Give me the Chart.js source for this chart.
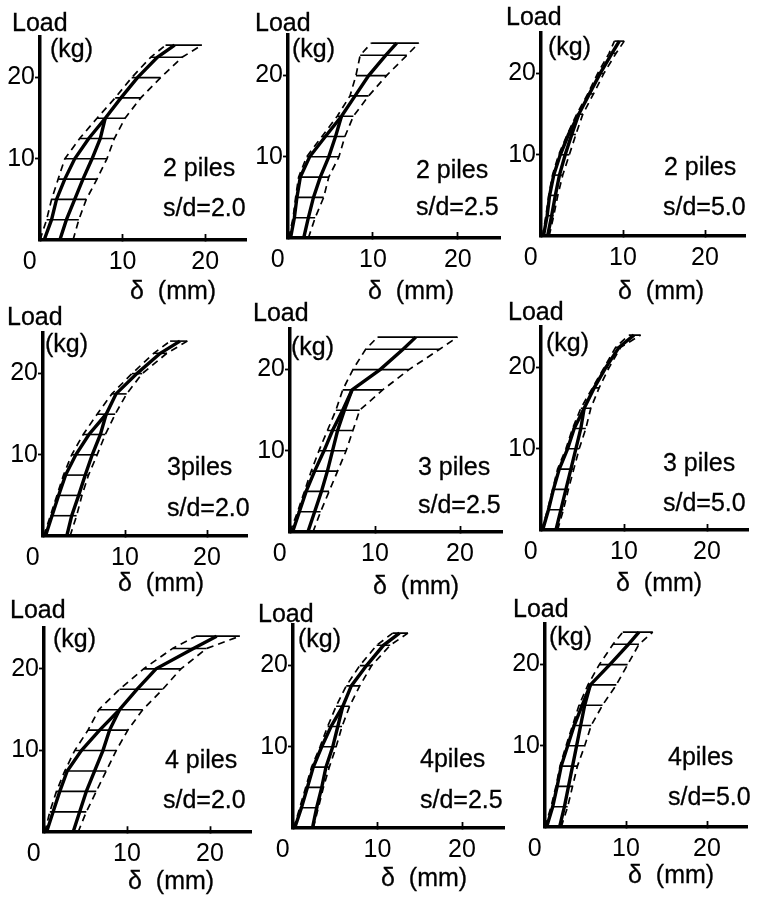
<!DOCTYPE html>
<html>
<head>
<meta charset="utf-8">
<script src="https://cdn.jsdelivr.net/npm/chart.js@4/dist/chart.umd.min.js"></script>
<style>
  html, body { margin: 0; padding: 0; background: #fff; }
  body { position: relative; width: 758px; height: 897px; overflow: hidden;
         font-family: "Liberation Sans", Arial, sans-serif; color: #000; }
  canvas { position: absolute; }
  .lbl { position: absolute; font-size: 25px; line-height: 1; white-space: pre;
         -webkit-text-stroke: 0.3px #000; }
</style>
</head>
<body>
<script>
// Load steps (kg) at which every curve is read; the hatching sits on these steps.
const LOADS = [0, 2.5, 5, 7.5, 10, 12.5, 15, 17.5, 20, 22.5, 24];
const X_TICKS = [0, 10, 20];
const Y_TICKS = [10, 20];

// Settlement δ (mm) per load step. dash* = scatter band, solid* = the two mean curves.
// 2 piles, s/d = 2.0
const p2sd20DashL  = [0.0, 0.8, 1.4, 2.2, 3.0, 4.8, 6.9, 9.1, 11.1, 13.4, 15.2];
const p2sd20SolidL = [0.5, 1.4, 2.0, 3.0, 4.2, 5.9, 7.9, 9.8, 11.8, 14.2, 16.3];
const p2sd20SolidR = [2.4, 3.2, 4.2, 5.2, 6.3, 7.3, 7.9, null, null, null, null];
const p2sd20DashR  = [4.0, 4.7, 5.6, 6.9, 8.1, 9.0, 10.3, 12.2, 14.6, 17.2, 19.6];
// 2 piles, s/d = 2.5
const p2sd25DashL  = [0.1, 0.6, 0.9, 1.25, 2.2, 4.0, 5.8, 7.3, 8.0, 8.5, 9.8];
const p2sd25SolidL = [0.3, 0.75, 1.05, 1.45, 2.55, 4.4, 6.3, 7.9, 9.5, 11.5, 12.8];
const p2sd25SolidR = [1.85, 2.4, 3.0, 3.8, 4.8, 5.6, 6.3, null, null, null, null];
const p2sd25DashR  = [2.4, 3.2, 4.2, 4.8, 6.0, 6.7, 7.7, 9.5, 11.6, 14.0, 15.4];
// 2 piles, s/d = 5.0
const p2sd50DashL  = [0.2, 0.6, 0.95, 1.4, 2.15, 3.2, 4.35, 5.7, 6.9, 8.3, 8.95];
const p2sd50SolidL = [0.3, 0.75, 1.05, 1.55, 2.35, 3.35, 4.6, 5.9, 7.2, 8.65, 9.55];
const p2sd50SolidR = [0.8, 1.3, 1.75, 2.25, 2.95, 3.75, 4.6, null, null, null, null];
const p2sd50DashR  = [1.0, 1.55, 2.05, 2.65, 3.45, 4.25, 5.1, 6.4, 7.65, 9.15, 10.15];
// 3 piles, s/d = 2.0
const p3sd20DashL  = [0.1, 0.9, 1.7, 2.5, 3.5, 4.9, 6.6, 8.4, 10.85, 13.5, 15.5];
const p3sd20SolidL = [0.3, 1.1, 1.9, 2.75, 4.0, 5.6, 7.7, 8.9, 11.45, 14.3, 16.7];
const p3sd20SolidR = [2.9, 3.5, 4.35, 5.15, 6.0, 7.0, 7.7, null, null, null, null];
const p3sd20DashR  = [3.3, 4.1, 4.75, 5.55, 6.6, 7.6, 8.8, 10.2, 12.1, 15.1, 17.6];
// 3 piles, s/d = 2.5
const p3sd25DashL  = [0.0, 0.9, 1.7, 2.5, 3.4, 4.4, 5.4, 6.2, 7.4, 8.9, 10.3];
const p3sd25SolidL = [0.3, 1.1, 1.9, 2.9, 4.0, 5.0, 6.2, 7.3, 10.6, 13.3, 14.8];
const p3sd25SolidR = [2.1, 2.9, 3.7, 4.4, 5.0, 5.6, 6.4, 7.3, null, null, null];
const p3sd25DashR  = [2.7, 3.6, 4.6, 5.6, 6.6, 7.4, 8.2, 10.9, 14.0, 17.6, 19.7];
// 3 piles, s/d = 5.0
const p3sd50DashL  = [0.1, 0.8, 1.4, 2.0, 3.0, 3.8, 4.8, 6.2, 7.6, 9.0, 10.6];
const p3sd50SolidL = [0.2, 0.9, 1.5, 2.2, 3.2, 4.0, 5.2, 6.4, 7.8, 9.4, 11.2];
const p3sd50SolidR = [1.8, 2.4, 3.0, 3.6, 4.2, 4.8, 5.2, null, null, null, null];
const p3sd50DashR  = [2.0, 2.7, 3.3, 3.95, 4.6, 5.4, 6.0, 7.0, 8.2, 9.6, 12.0];
// 4 piles, s/d = 2.0
const p4sd20DashL  = [0.1, 0.7, 1.5, 2.5, 3.7, 5.3, 6.6, 9.1, 12.0, 15.5, 18.3];
const p4sd20SolidL = [0.3, 1.1, 1.9, 2.8, 4.5, 6.7, 9.1, 11.2, 13.5, 18.0, 20.8];
const p4sd20SolidR = [3.5, 4.3, 5.1, 6.1, 7.1, 7.9, 9.1, null, null, null, null];
const p4sd20DashR  = [4.1, 5.1, 6.3, 7.5, 8.7, 10.1, 11.9, 14.3, 16.5, 19.6, 23.6];
// 4 piles, s/d = 2.5
const p4sd25DashL  = [0.1, 0.8, 1.5, 2.2, 3.2, 4.1, 5.1, 6.3, 7.9, 9.9, 11.8];
const p4sd25SolidL = [0.2, 1.0, 1.7, 2.4, 3.4, 4.5, 5.9, 6.9, 8.7, 10.7, 12.6];
const p4sd25SolidR = [2.3, 2.8, 3.4, 3.9, 4.7, 5.3, 5.9, null, null, null, null];
const p4sd25DashR  = [2.4, 3.0, 3.6, 4.3, 5.1, 5.8, 6.7, 7.9, 9.3, 11.5, 13.6];
// 4 piles, s/d = 5.0
const p4sd50DashL  = [0.0, 0.75, 1.35, 1.85, 2.6, 3.4, 4.2, 5.3, 6.7, 8.4, 9.6];
const p4sd50SolidL = [0.2, 0.95, 1.5, 2.0, 2.8, 3.6, 4.6, 5.6, 8.0, 10.3, 11.6];
const p4sd50SolidR = [1.8, 2.4, 2.9, 3.4, 3.9, 4.4, 4.9, 5.6, null, null, null];
const p4sd50DashR  = [2.0, 2.8, 3.4, 4.0, 4.9, 5.7, 7.1, 8.8, 10.2, 11.6, 13.3];

const PANEL_NAMES  = ['2 piles', '2 piles', '2 piles', '3piles', '3 piles', '3 piles', '4 piles', '4piles', '4piles'];
const PANEL_RATIOS = ['s/d=2.0', 's/d=2.5', 's/d=5.0', 's/d=2.0', 's/d=2.5', 's/d=5.0', 's/d=2.0', 's/d=2.5', 's/d=5.0'];

const series = [
  [p2sd20DashL, p2sd20SolidL, p2sd20SolidR, p2sd20DashR],
  [p2sd25DashL, p2sd25SolidL, p2sd25SolidR, p2sd25DashR],
  [p2sd50DashL, p2sd50SolidL, p2sd50SolidR, p2sd50DashR],
  [p3sd20DashL, p3sd20SolidL, p3sd20SolidR, p3sd20DashR],
  [p3sd25DashL, p3sd25SolidL, p3sd25SolidR, p3sd25DashR],
  [p3sd50DashL, p3sd50SolidL, p3sd50SolidR, p3sd50DashR],
  [p4sd20DashL, p4sd20SolidL, p4sd20SolidR, p4sd20DashR],
  [p4sd25DashL, p4sd25SolidL, p4sd25SolidR, p4sd25DashR],
  [p4sd50DashL, p4sd50SolidL, p4sd50SolidR, p4sd50DashR],
];

// Page geometry: axis origin (ox, oy) in px and px per mm / per kg.
const frames = [
  { ox: 40,  oy: 240, sx: 8.26, sy: 8.4 },
  { ox: 288, oy: 238, sx: 8.49, sy: 8.4 },
  { ox: 541, oy: 236, sx: 8.2,  sy: 8.4 },
  { ox: 43,  oy: 536, sx: 8.2,  sy: 8.4 },
  { ox: 290, oy: 532, sx: 8.5,  sy: 8.4 },
  { ox: 541, oy: 530, sx: 8.3,  sy: 8.4 },
  { ox: 44,  oy: 832, sx: 8.3,  sy: 8.45 },
  { ox: 293, oy: 828, sx: 8.45, sy: 8.4 },
  { ox: 545, oy: 827, sx: 8.1,  sy: 8.4 },
];
// Text anchors [left, capTop] for: Load, (kg), pile count, s/d, δ (mm)
const textPos = [
  [[12, 13],  [50, 39],  [163, 158], [163, 198], [130, 281]],
  [[255, 13], [292, 39], [416, 160], [416, 197], [368, 281]],
  [[506, 7],  [548, 37], [664, 157], [663, 197], [618, 281]],
  [[7, 307],  [45, 334], [167, 457], [167, 498], [118, 573]],
  [[253, 303],[291, 337],[418, 457], [418, 495], [373, 576]],
  [[508, 302],[546, 333],[663, 453], [663, 493], [616, 573]],
  [[10, 600], [53, 629], [165, 750], [163, 790], [128, 871]],
  [[258, 604],[298, 629],[420, 749], [420, 790], [381, 868]],
  [[513, 599],[549, 627],[668, 747], [668, 787], [628, 865]],
];

const FONT = '"Liberation Sans", Arial, sans-serif';
const X_MAX = 25, Y_MAX = 25;
const YW = 45, XH = 40, PT = 8;

function points(xs) {
  return xs.map((x, i) => ({ x, y: LOADS[i] })).filter(p => p.x !== null);
}

function addText(str, left, capTop) {
  const d = document.createElement('div');
  d.className = 'lbl';
  d.textContent = str;
  d.style.left = left + 'px';
  d.style.top = (capTop - 3) + 'px';
  document.body.appendChild(d);
}

series.forEach((s, k) => {
  const [dashL, solidL, solidR, dashR] = s;
  const f = frames[k];
  const plotW = X_MAX * f.sx, plotH = Y_MAX * f.sy;
  const W = Math.ceil(YW + plotW + 6);
  const H = Math.ceil(PT + plotH + XH);
  const PR = W - YW - plotW;
  const PB = H - PT - plotH - XH;

  const cv = document.createElement('canvas');
  cv.width = W; cv.height = H;
  cv.style.width = W + 'px'; cv.style.height = H + 'px';
  cv.style.left = (f.ox - YW) + 'px';
  cv.style.top = (f.oy - plotH - PT) + 'px';
  document.body.appendChild(cv);

  const datasets = [
    { data: points(solidL), borderColor: '#000', borderWidth: 3.4 },
    { data: points(solidR), borderColor: '#000', borderWidth: 3.4 },
    { data: points(dashL), borderColor: '#000', borderWidth: 1.7, borderDash: [7, 5] },
    { data: points(dashR), borderColor: '#000', borderWidth: 1.7, borderDash: [7, 5] },
  ];
  // hatching across the scatter band at each load step
  for (let i = 1; i < LOADS.length; i++) {
    datasets.push({
      data: [{ x: dashL[i], y: LOADS[i] }, { x: dashR[i], y: LOADS[i] }],
      borderColor: '#000', borderWidth: 1.6,
    });
  }

  new Chart(cv, {
    type: 'line',
    data: { datasets },
    options: {
      responsive: false, animation: false, devicePixelRatio: 1,
      layout: { padding: { top: PT, right: PR, left: 0, bottom: PB }, autoPadding: false },
      plugins: { legend: { display: false }, tooltip: { enabled: false } },
      elements: { point: { radius: 0 }, line: { tension: 0, fill: false } },
      scales: {
        x: {
          type: 'linear', min: 0, max: X_MAX, position: 'bottom',
          afterBuildTicks: sc => { sc.ticks = X_TICKS.map(v => ({ value: v })); },
          afterFit: sc => { sc.height = XH; },
          border: { display: true, color: '#000', width: 3.5 },
          grid: { display: true, drawOnChartArea: false, drawTicks: true, tickLength: -6,
                  tickWidth: 1.8, tickColor: '#000', color: '#000' },
          ticks: { color: '#000', font: { family: FONT, size: 25 }, padding: 13,
                   maxRotation: 0, autoSkip: false,
                   callback: v => v === 0 ? '0   ' : String(v) },
        },
        y: {
          type: 'linear', min: 0, max: Y_MAX, position: 'left',
          afterBuildTicks: sc => { sc.ticks = Y_TICKS.map(v => ({ value: v })); },
          afterFit: sc => { sc.width = YW; },
          border: { display: true, color: '#000', width: 3.5 },
          grid: { display: true, drawOnChartArea: false, drawTicks: true, tickLength: 5,
                  tickWidth: 1.8, tickColor: '#000', color: '#000' },
          ticks: { color: '#000', font: { family: FONT, size: 25 }, padding: 0 },
        },
      },
    },
  });

  const t = textPos[k];
  addText('Load', t[0][0], t[0][1]);
  addText('(kg)', t[1][0], t[1][1]);
  addText(PANEL_NAMES[k], t[2][0], t[2][1]);
  addText(PANEL_RATIOS[k], t[3][0], t[3][1]);
  addText('δ  (mm)', t[4][0], t[4][1]);
});
</script>
</body>
</html>
